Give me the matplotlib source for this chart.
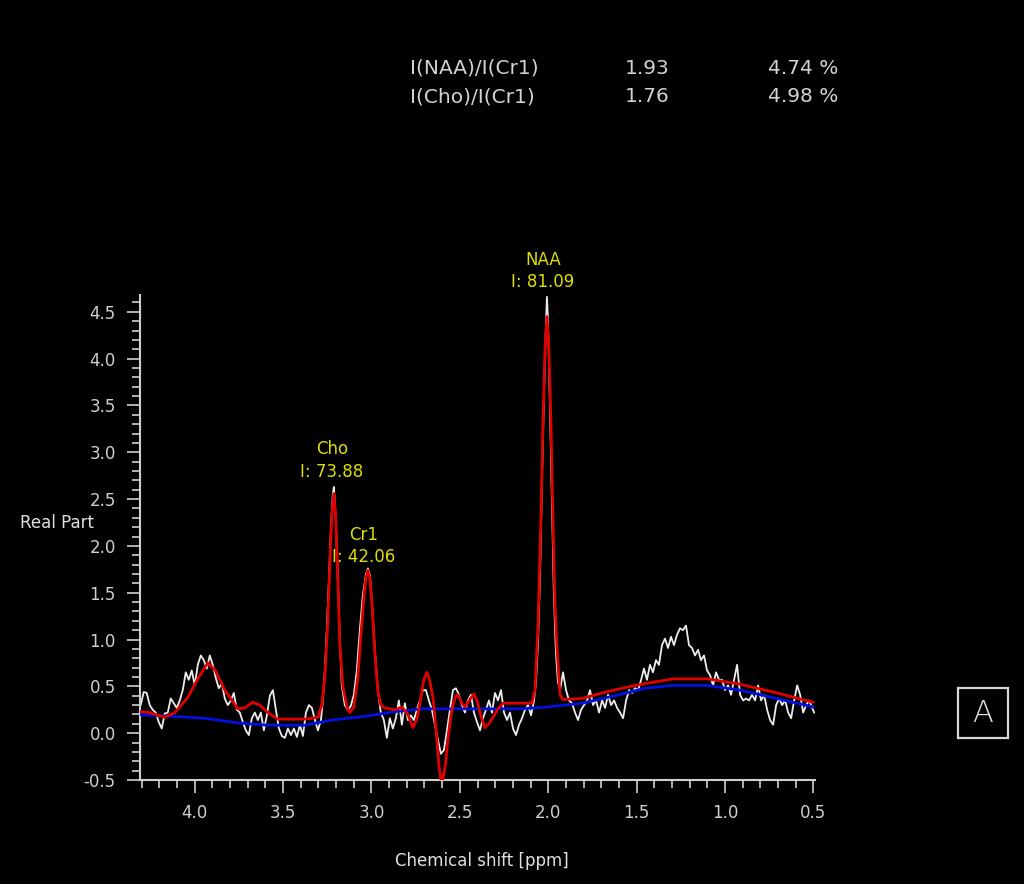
import matplotlib
matplotlib.use("Agg")
import matplotlib.pyplot as plt
from matplotlib.ticker import MultipleLocator, FixedLocator
from matplotlib.patches import Rectangle

# ---------------- data (ppm, amplitude) ----------------
white_ppm = [4.323, 4.306, 4.289, 4.272, 4.255, 4.238, 4.221, 4.204, 4.187, 4.170, 4.153, 4.136, 4.119, 4.102,
             4.085, 4.068, 4.051, 4.034, 4.017, 4.000, 3.983, 3.966, 3.949, 3.932, 3.915, 3.898, 3.881, 3.864,
             3.847, 3.830, 3.813, 3.796, 3.779, 3.762, 3.745, 3.728, 3.711, 3.694, 3.677, 3.660, 3.643, 3.626,
             3.609, 3.592, 3.575, 3.558, 3.541, 3.524, 3.507, 3.490, 3.473, 3.456, 3.439, 3.422, 3.405, 3.388,
             3.371, 3.354, 3.337, 3.320, 3.303, 3.286, 3.275, 3.264, 3.253, 3.241, 3.230, 3.219, 3.213, 3.202,
             3.190, 3.179, 3.168, 3.151, 3.134, 3.117, 3.100, 3.083, 3.066, 3.049, 3.032, 3.020, 3.009, 2.998,
             2.981, 2.964, 2.947, 2.930, 2.913, 2.896, 2.879, 2.862, 2.845, 2.828, 2.811, 2.794, 2.777, 2.760,
             2.743, 2.726, 2.709, 2.692, 2.675, 2.658, 2.641, 2.624, 2.607, 2.590, 2.573, 2.556, 2.539, 2.522,
             2.505, 2.488, 2.471, 2.454, 2.437, 2.420, 2.403, 2.386, 2.369, 2.352, 2.335, 2.318, 2.301, 2.284,
             2.267, 2.250, 2.233, 2.216, 2.199, 2.182, 2.165, 2.148, 2.131, 2.114, 2.097, 2.080, 2.069, 2.058,
             2.046, 2.035, 2.024, 2.013, 2.007, 2.001, 1.990, 1.979, 1.968, 1.956, 1.945, 1.933, 1.916, 1.899,
             1.882, 1.865, 1.848, 1.831, 1.814, 1.797, 1.780, 1.763, 1.746, 1.729, 1.712, 1.695, 1.678, 1.661,
             1.644, 1.627, 1.610, 1.593, 1.576, 1.559, 1.542, 1.525, 1.508, 1.491, 1.474, 1.458, 1.441, 1.424,
             1.407, 1.390, 1.373, 1.356, 1.339, 1.322, 1.305, 1.288, 1.271, 1.254, 1.237, 1.220, 1.203, 1.186,
             1.169, 1.152, 1.135, 1.118, 1.101, 1.084, 1.067, 1.050, 1.033, 1.016, 0.999, 0.982, 0.965, 0.948,
             0.931, 0.914, 0.897, 0.880, 0.863, 0.846, 0.829, 0.812, 0.795, 0.778, 0.761, 0.744, 0.727, 0.710,
             0.693, 0.676, 0.659, 0.642, 0.625, 0.608, 0.591, 0.574, 0.557, 0.540, 0.523, 0.506, 0.495]
white_val = [0.43, 0.30, 0.44, 0.43, 0.30, 0.25, 0.22, 0.12, 0.05, 0.21, 0.22, 0.37, 0.32, 0.27,
             0.35, 0.46, 0.65, 0.57, 0.67, 0.51, 0.73, 0.83, 0.78, 0.69, 0.83, 0.73, 0.59, 0.48,
             0.53, 0.37, 0.30, 0.35, 0.43, 0.25, 0.22, 0.12, 0.03, -0.02, 0.16, 0.22, 0.14, 0.22,
             0.03, 0.19, 0.40, 0.46, 0.25, 0.05, -0.03, -0.05, 0.05, -0.02, 0.05, -0.04, 0.09, -0.03,
             0.22, 0.30, 0.27, 0.14, 0.03, 0.14, 0.35, 0.67, 1.10, 1.63, 2.17, 2.54, 2.63, 2.28,
             1.63, 0.99, 0.51, 0.30, 0.25, 0.29, 0.41, 0.67, 1.10, 1.47, 1.69, 1.76, 1.69, 1.42,
             0.89, 0.46, 0.22, 0.14, -0.05, 0.16, 0.05, 0.16, 0.35, 0.09, 0.32, 0.14, 0.19, 0.14,
             0.25, 0.35, 0.46, 0.46, 0.35, 0.25, 0.09, -0.07, -0.22, -0.18, 0.03, 0.25, 0.46, 0.48,
             0.41, 0.30, 0.22, 0.35, 0.41, 0.22, 0.12, 0.03, 0.16, 0.25, 0.35, 0.22, 0.43, 0.35,
             0.46, 0.22, 0.14, 0.22, 0.05, -0.02, 0.09, 0.16, 0.25, 0.30, 0.19, 0.35, 0.55, 0.95,
             1.70, 2.70, 3.60, 4.35, 4.66, 4.40, 3.50, 2.50, 1.50, 0.85, 0.55, 0.46, 0.65, 0.46,
             0.35, 0.32, 0.22, 0.14, 0.25, 0.30, 0.35, 0.46, 0.30, 0.35, 0.22, 0.35, 0.27, 0.41,
             0.30, 0.35, 0.27, 0.22, 0.16, 0.35, 0.46, 0.43, 0.48, 0.46, 0.57, 0.69, 0.57, 0.73,
             0.65, 0.78, 0.73, 0.94, 1.01, 0.91, 1.03, 0.94, 1.05, 1.12, 1.10, 1.15, 0.94, 0.91,
             0.83, 0.89, 0.78, 0.83, 0.67, 0.62, 0.51, 0.65, 0.57, 0.57, 0.46, 0.51, 0.41, 0.57,
             0.73, 0.41, 0.35, 0.37, 0.35, 0.41, 0.35, 0.51, 0.35, 0.41, 0.25, 0.14, 0.09, 0.30,
             0.37, 0.30, 0.35, 0.22, 0.16, 0.35, 0.51, 0.41, 0.22, 0.30, 0.35, 0.27, 0.22]

fit_ppm = [4.323, 4.255, 4.170, 4.113, 4.040, 3.983, 3.926, 3.887, 3.830, 3.757, 3.717, 3.672, 3.632, 3.587,
           3.530, 3.377, 3.303, 3.281, 3.264, 3.247, 3.236, 3.224, 3.213, 3.202, 3.190, 3.179, 3.162, 3.139,
           3.122, 3.100, 3.077, 3.060, 3.043, 3.032, 3.020, 3.009, 2.998, 2.981, 2.964, 2.947, 2.924, 2.867,
           2.828, 2.794, 2.766, 2.743, 2.726, 2.703, 2.686, 2.669, 2.652, 2.635, 2.618, 2.607, 2.596, 2.579,
           2.568, 2.551, 2.539, 2.522, 2.511, 2.488, 2.471, 2.443, 2.420, 2.403, 2.380, 2.358, 2.335, 2.312,
           2.284, 2.256, 2.160, 2.092, 2.075, 2.058, 2.041, 2.030, 2.018, 2.007, 1.996, 1.984, 1.973, 1.962,
           1.950, 1.933, 1.916, 1.809, 1.695, 1.582, 1.452, 1.294, 1.101, 0.931, 0.727, 0.501]
fit_val = [0.235, 0.22, 0.17, 0.22, 0.38, 0.58, 0.75, 0.68, 0.46, 0.26, 0.27, 0.33, 0.30, 0.22,
           0.15, 0.15, 0.17, 0.30, 0.60, 1.20, 1.80, 2.35, 2.56, 2.30, 1.60, 0.95, 0.50, 0.28,
           0.22, 0.28, 0.60, 1.05, 1.45, 1.65, 1.74, 1.65, 1.40, 0.85, 0.45, 0.30, 0.27, 0.25,
           0.28, 0.20, 0.06, 0.15, 0.32, 0.58, 0.65, 0.55, 0.38, 0.05, -0.35, -0.50, -0.50, -0.30,
           -0.07, 0.18, 0.30, 0.40, 0.41, 0.32, 0.28, 0.36, 0.42, 0.35, 0.18, 0.06, 0.10, 0.17,
           0.26, 0.32, 0.32, 0.32, 0.46, 1.13, 2.30, 3.30, 4.10, 4.45, 4.10, 3.30, 2.30, 1.40,
           0.90, 0.41, 0.36, 0.37, 0.43, 0.48, 0.53, 0.58, 0.58, 0.53, 0.44, 0.33]

base_ppm = [4.323, 4.136, 3.943, 3.757, 3.587, 3.377, 3.224, 3.037, 2.867, 2.709, 2.160, 2.001, 1.809, 1.622,
            1.452, 1.294, 1.101, 0.914, 0.727, 0.501]
base_val = [0.20, 0.18, 0.16, 0.11, 0.085, 0.085, 0.14, 0.18, 0.23, 0.26, 0.26, 0.28, 0.32, 0.40,
            0.48, 0.51, 0.51, 0.46, 0.38, 0.28]

peak_names = ["NAA", "Cho", "Cr1"]
peak_integrals = ["81.09", "73.88", "42.06"]

ratio_labels = ["I(NAA)/I(Cr1)", "I(Cho)/I(Cr1)"]
ratio_values = ["1.93", "1.76"]
ratio_errors = ["4.74 %", "4.98 %"]

x_ticks = [4.0, 3.5, 3.0, 2.5, 2.0, 1.5, 1.0, 0.5]
y_ticks = [-0.5, 0.0, 0.5, 1.0, 1.5, 2.0, 2.5, 3.0, 3.5, 4.0, 4.5]

# ---------------- figure ----------------
W, H = 1024, 884
fig = plt.figure(figsize=(W / 100, H / 100), dpi=100, facecolor="black")

def fx(px):
    return px / W

def fy(py):
    return 1 - py / H

ax = fig.add_axes([fx(140), fy(780), fx(815) - fx(140), fy(295) - fy(780)])
ax.set_facecolor("black")

axis_col = "#cfcfcf"
ax.plot(white_ppm, white_val, color="#ececec", lw=1.3, zorder=2)
ax.plot(base_ppm, base_val, color="#0010e0", lw=2.0, zorder=3)
ax.plot(fit_ppm, fit_val, color="#e00000", lw=2.0, zorder=4)

ax.set_xlim(4.31, 0.49)
ax.set_ylim(-0.5, 4.68)

for s in ["top", "right"]:
    ax.spines[s].set_visible(False)
for s in ["left", "bottom"]:
    ax.spines[s].set_color(axis_col)
    ax.spines[s].set_linewidth(1.5)

ax.xaxis.set_major_locator(FixedLocator(x_ticks))
ax.xaxis.set_minor_locator(MultipleLocator(0.1))
ax.yaxis.set_major_locator(FixedLocator(y_ticks))
ax.yaxis.set_minor_locator(MultipleLocator(0.1))
ax.set_xticklabels([f"{v:.1f}" for v in x_ticks])
ax.set_yticklabels([f"{v:.1f}" for v in y_ticks])
ax.tick_params(axis="both", which="major", direction="out", length=9.5, width=1.2,
               colors=axis_col, labelsize=12, pad=8)
ax.tick_params(axis="both", which="minor", direction="out", length=5.5, width=1.2, colors=axis_col)

# peak annotations
yellow = "#dede00"
lab_pos = {"NAA": (543, 260, 282), "Cho": (332, 449, 472), "Cr1": (364, 535, 557)}
for name, integ in zip(peak_names, peak_integrals):
    x0, y1, y2 = lab_pos[name]
    fig.text(fx(x0), fy(y1), name, color=yellow, fontsize=12, ha="center", va="center")
    fig.text(fx(x0), fy(y2), "I: " + integ, color=yellow, fontsize=12, ha="center", va="center")

# axis titles
fig.text(fx(20), fy(523), "Real Part", color="#e0e0e0", fontsize=12, ha="left", va="center")
fig.text(fx(482), fy(861), "Chemical shift [ppm]", color="#e0e0e0", fontsize=12, ha="center", va="center")

# ratio table
tcol = "#d2d2d2"
for i, (lab, val, err) in enumerate(zip(ratio_labels, ratio_values, ratio_errors)):
    yy = fy(68 + 29 * i)
    fig.text(fx(410), yy, lab, color=tcol, fontsize=14.5, ha="left", va="center")
    fig.text(fx(625), yy, val, color=tcol, fontsize=14.5, ha="left", va="center")
    fig.text(fx(768), yy, err, color=tcol, fontsize=14.5, ha="left", va="center")

# boxed "A"
fig.patches.append(Rectangle((fx(958), fy(738)), fx(1008) - fx(958), fy(688) - fy(738),
                             transform=fig.transFigure, fill=False, edgecolor="#d8d8d8", lw=1.6))
fig.text(fx(983), fy(714), "A", color="#e0e0e0", fontsize=22, ha="center", va="center",
         fontweight="light")

fig.savefig("out.png", dpi=100, facecolor="black")
